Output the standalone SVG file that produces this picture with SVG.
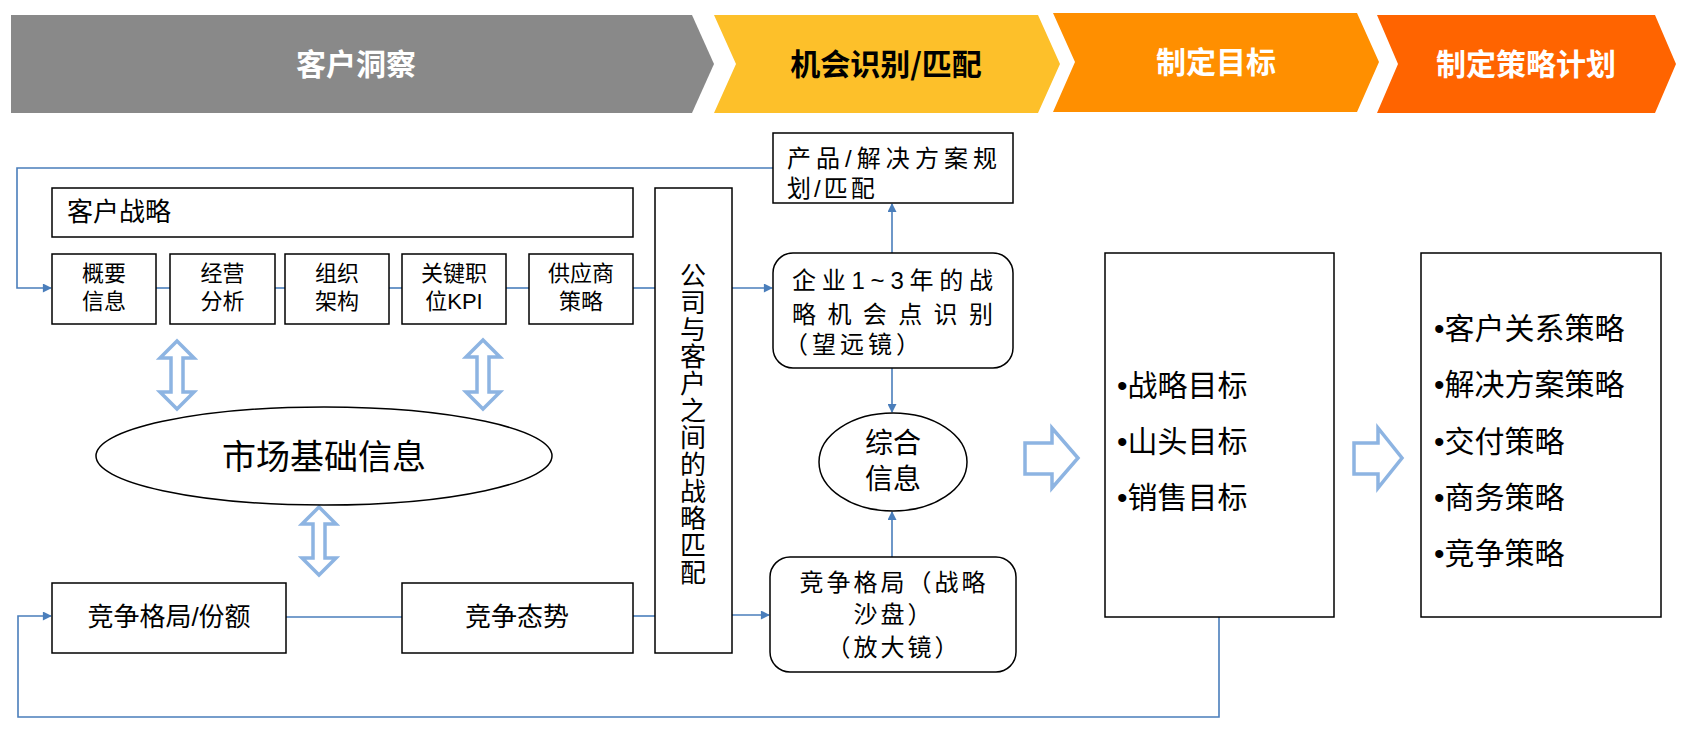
<svg xmlns="http://www.w3.org/2000/svg" width="1698" height="746" viewBox="0 0 1698 746">
<defs>
<style>
.t{font-family:"Liberation Sans","Noto Sans CJK SC",sans-serif;fill:#000;}
.b{font-family:"Liberation Sans",Arial,sans-serif;}
.bn{font-family:"Noto Sans CJK SC","Noto Sans",sans-serif;font-weight:bold;font-size:30px;text-anchor:middle;dominant-baseline:central;}
.box{fill:#fff;stroke:#000;stroke-width:1.5;}
.ln{fill:none;stroke:#4A7EBB;stroke-width:1.6;}
.arw{fill:none;stroke:#4A7EBB;stroke-width:1.6;marker-end:url(#ah);}
.hol{fill:#fff;stroke:#8DB4E2;stroke-width:3.5;stroke-linejoin:miter;}
.c{text-anchor:middle;dominant-baseline:central;}
</style>
<marker id="ah" viewBox="0 0 10 10" refX="9" refY="5" markerWidth="10" markerHeight="9" markerUnits="userSpaceOnUse" orient="auto">
<path d="M0,0 L10,5 L0,10 Z" fill="#4A7EBB"/>
</marker>
</defs>
<rect width="1698" height="746" fill="#fff"/>

<g id="banner-insight">
<polygon points="11,15 692,15 714,64 692,113 11,113" fill="#898989"/>
<text class="bn" x="356" y="62" fill="#fff">客户洞察</text>
</g>
<g id="banner-opportunity">
<polygon points="714,15 1038,15 1060,64 1038,113 714,113 736,64" fill="#FDC02A"/>
<text class="bn" x="886" y="62" fill="#000">机会识别/匹配</text>
</g>
<g id="banner-target">
<polygon points="1053,13 1357,13 1379,62 1357,112 1053,112 1075,62" fill="#FF8F00"/>
<text class="bn" x="1216" y="60" fill="#fff">制定目标</text>
</g>
<g id="banner-plan">
<polygon points="1377,15 1655,15 1676,64 1655,113 1377,113 1398,64" fill="#FF6400"/>
<text class="bn" x="1526" y="62" fill="#fff">制定策略计划</text>
</g>

<g id="connectors">
<polyline class="arw" points="773,168 17,168 17,288 51,288"/>
<line class="ln" x1="156" y1="288" x2="170" y2="288"/>
<line class="ln" x1="275" y1="288" x2="285" y2="288"/>
<line class="ln" x1="389" y1="288" x2="402" y2="288"/>
<line class="ln" x1="506" y1="288" x2="529" y2="288"/>
<line class="ln" x1="633" y1="288" x2="655" y2="288"/>
<line class="arw" x1="732" y1="288" x2="772" y2="288"/>
<line class="arw" x1="892" y1="253" x2="892" y2="204"/>
<line class="arw" x1="892" y1="368" x2="892" y2="412"/>
<line class="arw" x1="892" y1="557" x2="892" y2="512"/>
<polyline class="arw" points="1219,617 1219,717 18,717 18,616 51,616"/>
<line class="ln" x1="286" y1="617" x2="402" y2="617"/>
<line class="ln" x1="633" y1="616" x2="655" y2="616"/>
<line class="arw" x1="732" y1="615" x2="769" y2="615"/>
<path class="hol" d="M177,341 L194,358 L183,358 L183,392 L194,392 L177,409 L160,392 L171,392 L171,358 L160,358 Z"/>
<path class="hol" d="M483,340 L500,357 L489,357 L489,392 L500,392 L483,409 L466,392 L477,392 L477,357 L466,357 Z"/>
<path class="hol" d="M319,507 L336,524 L325,524 L325,558 L336,558 L319,575 L302,558 L313,558 L313,524 L302,524 Z"/>
<path class="hol" d="M1025,443 L1052,443 L1052,428 L1078,458 L1052,488 L1052,474 L1025,474 Z"/>
<path class="hol" d="M1354,443 L1378,443 L1378,428 L1402,458 L1378,488 L1378,474 L1354,474 Z"/>
</g>

<g id="customer-strategy">
<rect class="box" x="52" y="188" width="581" height="49"/>
<text class="t" x="67" y="221" font-size="26">客户战略</text>
</g>
<g id="overview">
<rect class="box" x="52" y="254" width="104" height="70"/>
<text class="t" text-anchor="middle" font-size="22"><tspan x="104" y="281">概要</tspan><tspan x="104" y="309">信息</tspan></text>
</g>
<g id="operation">
<rect class="box" x="170" y="254" width="105" height="70"/>
<text class="t" text-anchor="middle" font-size="22"><tspan x="222.5" y="281">经营</tspan><tspan x="222.5" y="309">分析</tspan></text>
</g>
<g id="organization">
<rect class="box" x="285" y="254" width="104" height="70"/>
<text class="t" text-anchor="middle" font-size="22"><tspan x="337" y="281">组织</tspan><tspan x="337" y="309">架构</tspan></text>
</g>
<g id="kpi">
<rect class="box" x="402" y="254" width="104" height="70"/>
<text class="t" text-anchor="middle" font-size="22"><tspan x="454" y="281">关键职</tspan><tspan x="454" y="309">位KPI</tspan></text>
</g>
<g id="supplier">
<rect class="box" x="529" y="254" width="104" height="70"/>
<text class="t" text-anchor="middle" font-size="22"><tspan x="581" y="281">供应商</tspan><tspan x="581" y="309">策略</tspan></text>
</g>
<g id="market-info">
<ellipse cx="324" cy="456" rx="228" ry="49" fill="#fff" stroke="#000" stroke-width="1.5"/>
<text class="t" text-anchor="middle" x="324" y="469" font-size="34">市场基础信息</text>
</g>
<g id="competition-share">
<rect class="box" x="52" y="583" width="234" height="70"/>
<text class="t" text-anchor="middle" x="169" y="626" font-size="26">竞争格局/份额</text>
</g>
<g id="competition-trend">
<rect class="box" x="402" y="583" width="231" height="70"/>
<text class="t" text-anchor="middle" x="517" y="626" font-size="26">竞争态势</text>
</g>
<g id="strategic-match">
<rect class="box" x="655" y="188" width="77" height="465"/>
<text x="693" y="262" font-size="26" letter-spacing="1" style="font-family:'Noto Sans CJK SC',sans-serif;writing-mode:vertical-rl;text-orientation:upright;">公司与客户之间的战略匹配</text>
</g>
<g id="product-solution">
<rect class="box" x="773" y="133" width="240" height="70"/>
<text class="t" font-size="24"><tspan x="787" y="167" textLength="210" lengthAdjust="spacing">产品/解决方案规</tspan><tspan x="787" y="197" letter-spacing="3">划/匹配</tspan></text>
</g>
<g id="opportunity">
<rect class="box" x="773" y="253" width="240" height="115" rx="20"/>
<text class="t" font-size="24"><tspan x="792" y="289" textLength="201" lengthAdjust="spacing">企业1~3年的战</tspan><tspan x="792" y="323" textLength="201" lengthAdjust="spacing">略机会点识别</tspan><tspan x="784" y="353" letter-spacing="4">（望远镜）</tspan></text>
</g>
<g id="synthesis">
<ellipse cx="893" cy="462" rx="74" ry="49" fill="#fff" stroke="#000" stroke-width="1.5"/>
<text class="t" text-anchor="middle" font-size="28"><tspan x="893" y="453">综合</tspan><tspan x="893" y="489">信息</tspan></text>
</g>
<g id="competition-map">
<rect class="box" x="770" y="557" width="246" height="115" rx="20"/>
<text class="t" text-anchor="middle" font-size="24" letter-spacing="3"><tspan x="894" y="591">竞争格局（战略</tspan><tspan x="894" y="623">沙盘）</tspan><tspan x="894" y="656">（放大镜）</tspan></text>
</g>
<g id="targets">
<rect class="box" x="1105" y="253" width="229" height="364"/>
<text class="t" font-size="30"><tspan x="1117" y="396">•战略目标</tspan><tspan x="1117" y="452">•山头目标</tspan><tspan x="1117" y="508">•销售目标</tspan></text>
</g>
<g id="strategies">
<rect class="box" x="1421" y="253" width="240" height="364"/>
<text class="t" font-size="30"><tspan x="1434" y="339">•客户关系策略</tspan><tspan x="1434" y="395">•解决方案策略</tspan><tspan x="1434" y="452">•交付策略</tspan><tspan x="1434" y="508">•商务策略</tspan><tspan x="1434" y="564">•竞争策略</tspan></text>
</g>
</svg>
